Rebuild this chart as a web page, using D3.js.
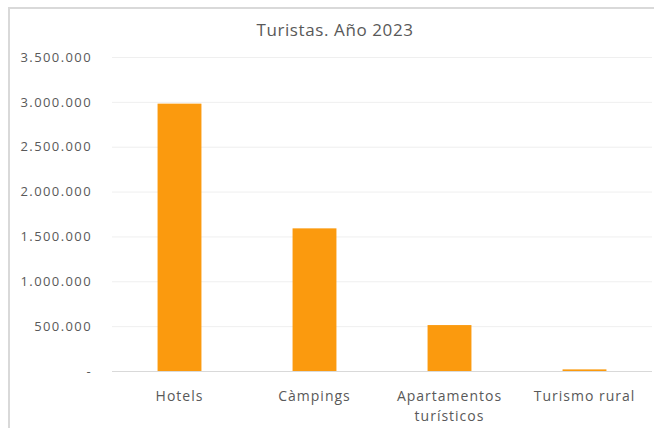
<!DOCTYPE html>
<html>
<head>
<meta charset="utf-8">
<script src="https://cdn.jsdelivr.net/npm/d3@7"></script>
<style>
  body { margin: 0; background: #fff; }
  svg { display: block; font-family: "Open Sans", "Noto Sans", sans-serif; }
</style>
</head>
<body>
<div id="chart"></div>
<script>
  // Turistas por tipo de alojamiento, 2023
  var categories = ["Hotels", "Càmpings", "Apartamentos turísticos", "Turismo rural"];
  var values = [2980000, 1590000, 512000, 18000];
  var tickValues = [0, 500000, 1000000, 1500000, 2000000, 2500000, 3000000, 3500000];

  var width = 654, height = 428;
  var margin = { top: 57, right: 2, bottom: 57, left: 112 };

  var svg = d3.select("#chart").append("svg")
    .attr("width", width)
    .attr("height", height);

  // chart frame
  svg.append("rect")
    .attr("x", 9).attr("y", 8)
    .attr("width", width + 10).attr("height", height + 10)
    .attr("fill", "none")
    .attr("stroke", "#d9d9d9")
    .attr("stroke-width", 2);

  svg.append("text")
    .attr("x", 335).attr("y", 36)
    .attr("text-anchor", "middle")
    .attr("fill", "#595959")
    .style("font-size", "17px")
    .style("letter-spacing", "0.6px")
    .text("Turistas. Año 2023");

  var x = d3.scaleBand()
    .domain(categories)
    .range([margin.left, width - margin.right])
    .paddingInner(0.675)
    .paddingOuter(0.3375);

  var y = d3.scaleLinear()
    .domain([0, 3500000])
    .range([height - margin.bottom, margin.top]);

  var fmt = function (d) {
    return d === 0 ? "-" : d3.format(",")(d).replace(/,/g, ".");
  };

  // gridlines
  svg.append("g")
    .selectAll("line")
    .data(tickValues)
    .join("line")
    .attr("x1", margin.left)
    .attr("x2", width - margin.right)
    .attr("y1", function (d) { return y(d) + 0.5; })
    .attr("y2", function (d) { return y(d) + 0.5; })
    .attr("stroke", function (d) { return d === 0 ? "#d9d9d9" : "#efefef"; })
    .attr("stroke-width", 1);

  // y labels
  var yAxis = svg.append("g")
    .attr("transform", "translate(" + (margin.left - 20) + ",0)")
    .call(d3.axisLeft(y).tickValues(tickValues).tickSize(0).tickPadding(0).tickFormat(fmt));
  yAxis.select(".domain").remove();
  yAxis.selectAll("text")
    .attr("fill", "#595959")
    .style("font-size", "13px")
    .style("letter-spacing", "1.4px")
    .style("font-family", "'Open Sans', 'Noto Sans', sans-serif");

  // bars
  svg.append("g")
    .selectAll("rect")
    .data(values)
    .join("rect")
    .attr("x", function (d, i) { return x(categories[i]); })
    .attr("width", x.bandwidth())
    .attr("y", function (d) { return y(d); })
    .attr("height", function (d) { return y(0) - y(d); })
    .attr("fill", "#fb9a0e");

  // category labels
  var xAxis = svg.append("g")
    .attr("transform", "translate(0," + (height - margin.bottom) + ")")
    .call(d3.axisBottom(x).tickSize(0).tickPadding(0).tickFormat(""));
  xAxis.select(".domain").remove();

  var labelLines = {
    "Apartamentos turísticos": ["Apartamentos", "turísticos"]
  };
  xAxis.selectAll(".tick").append("text")
    .attr("fill", "#595959")
    .attr("text-anchor", "middle")
    .style("font-size", "14px")
    .style("letter-spacing", "1px")
    .style("font-family", "'Open Sans', 'Noto Sans', sans-serif")
    .selectAll("tspan")
    .data(function (d) { return labelLines[d] || [d]; })
    .join("tspan")
    .attr("x", 0)
    .attr("y", function (d, i) { return 30 + i * 20; })
    .text(function (d) { return d; });
</script>
</body>
</html>
